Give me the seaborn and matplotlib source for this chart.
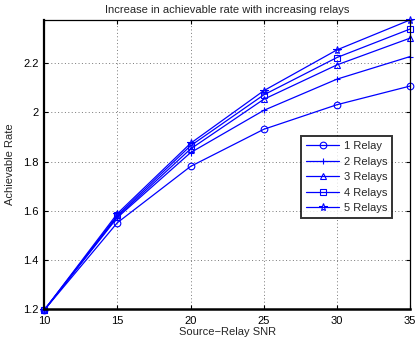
import numpy as np
import pandas as pd
import matplotlib
matplotlib.use("Agg")
import matplotlib.pyplot as plt
import seaborn as sns

# ==== Data ====
snr = [10, 15, 20, 25, 30, 35]
relay_labels = ["1 Relay", "2 Relays", "3 Relays", "4 Relays", "5 Relays"]
rate_1 = [1.195, 1.551, 1.780, 1.931, 2.031, 2.107]
rate_2 = [1.195, 1.572, 1.836, 2.008, 2.135, 2.227]
rate_3 = [1.195, 1.576, 1.851, 2.053, 2.193, 2.302]
rate_4 = [1.195, 1.581, 1.864, 2.071, 2.223, 2.339]
rate_5 = [1.195, 1.588, 1.874, 2.088, 2.254, 2.376]

rates = [rate_1, rate_2, rate_3, rate_4, rate_5]
marker_list = ["o", "+", "^", "s", "*"]

sns.set_style("white")
plt.rcParams['font.family'] = ['Liberation Sans', 'DejaVu Sans']

fig = plt.figure(figsize=(4.16, 3.43), dpi=100)
ax = fig.add_axes([0.106, 0.099, 0.880, 0.843])

# one call per series, since '+' cannot be mixed with filled markers in a style map
for lab, vals, mk in zip(relay_labels, rates, marker_list):
    sns.lineplot(x=snr, y=vals, ax=ax, label=lab, color="#0000ff",
                 marker=mk, linewidth=0.9, markersize=4.8 if mk != "*" else 5.8,
                 markerfacecolor="none", markeredgecolor="#0000ff",
                 markeredgewidth=0.8, clip_on=False)

ax.set_xlim(10, 35)
ax.set_ylim(1.2, 2.376)
ax.set_xticks([10, 15, 20, 25, 30, 35])
ax.set_yticks([1.2, 1.4, 1.6, 1.8, 2.0, 2.2])
ax.set_yticklabels(["1.2", "1.4", "1.6", "1.8", "2", "2.2"])
ax.grid(True, linestyle=(0, (1, 2.5)), color="#777777", linewidth=0.7)
ax.tick_params(direction="in", length=3, labelsize=8, colors="black",
               top=True, right=True, bottom=True, left=True, pad=4)
ax.tick_params(axis="x", pad=5)
for sp in ax.spines.values():
    sp.set_color("black")
    sp.set_linewidth(0.9)
ax.spines["bottom"].set_linewidth(1.8)
ax.spines["left"].set_linewidth(1.6)

ax.set_xlabel("Source\u2212Relay SNR", fontsize=8, labelpad=1)
ax.set_ylabel("Achievable Rate", fontsize=8, labelpad=6)
ax.set_title("Increase in achievable rate with increasing relays", fontsize=8, pad=5)

leg = ax.legend(loc="upper left", bbox_to_anchor=(301 / 416, 1 - 136 / 343),
                bbox_transform=fig.transFigure, fontsize=8,
                frameon=True, fancybox=False, edgecolor="black",
                handlelength=3.0, borderpad=0.45, labelspacing=0.5,
                handletextpad=0.4, borderaxespad=0)
leg.get_frame().set_linewidth(1.4)

fig.savefig("out.png", dpi=100)
